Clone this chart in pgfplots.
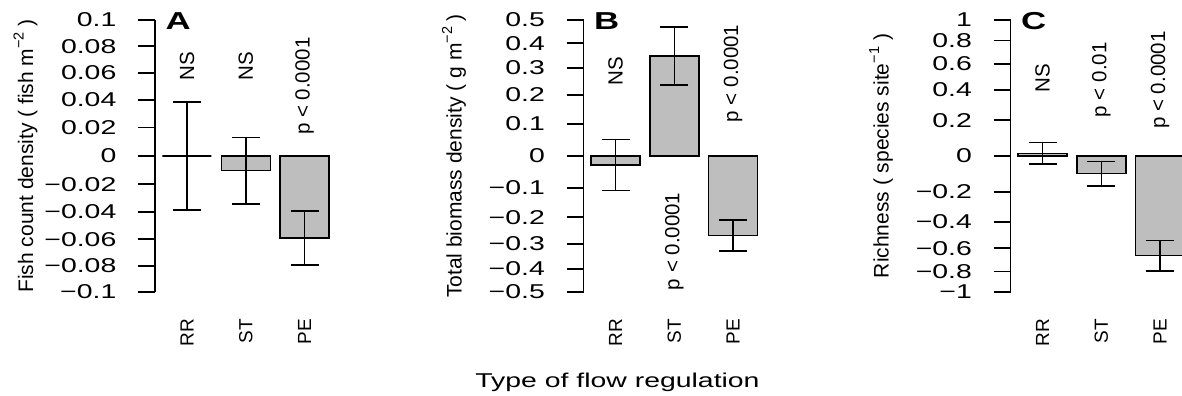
\documentclass[border=0pt]{standalone}
\usepackage{pgfplots}
\pgfplotsset{compat=1.18}
\usepackage{fontspec}
\setmainfont{Liberation Sans}
\newfontfamily\widefont{Liberation Sans}[FakeStretch=1.42]

\definecolor{barfill}{HTML}{BEBEBE}

% rotated text (labels, p values) and horizontal text (ticks, title)
\newcommand\rotfont{\fontsize{20.5bp}{24bp}\selectfont}
\newcommand\catfont{\fontsize{19bp}{23bp}\selectfont}
\newcommand\labfont{\fontsize{21bp}{25bp}\selectfont}
\newcommand\tickfont{\fontsize{20bp}{24bp}\selectfont}
\newcommand\horfont{\widefont\fontsize{20bp}{24bp}\selectfont}
\newcommand\panelfont{\widefont\bfseries\fontsize{24.5bp}{28bp}\selectfont}
\newcommand\supm[1]{\raisebox{0.45em}{\fontsize{14.5bp}{15bp}\selectfont #1}}
% wide tick numbers
\newcommand\tl[1]{\scalebox{1.42}[1]{\tickfont #1}}

% y axes use a signed log(1+|x|) scale; ticks sit at the transformed values
\pgfplotsset{
  panel/.style={
    scale only axis,
    width=181bp, height=272bp,
    anchor=south west,
    xmin=0.047, xmax=3.741,
    clip=false,
    axis x line=none,
    axis y line=left,
    y axis line style={-, line width=1.5bp, black},
    tick align=outside,
    major tick length=17bp,
    scaled y ticks=false,
    ytick style={line width=1.5bp, black},
    yticklabel style={font=\tickfont, anchor=east, inner sep=0pt, xshift=-21.5bp},
    every axis y label/.style={at={(axis description cs:-0.674,0.5)}, rotate=90, anchor=base, font=\labfont},
  },
  bars/.style={
    ybar, bar width=49bp, fill=barfill, draw=black, line width=1.5bp,
    error bars/.cd, y dir=both, y explicit,
    error bar style={line width=1.5bp, black},
    error mark=|,
    error mark options={black, line width=1.5bp, mark size=14bp},
  },
}
\tikzset{
  pval/.style={rotate=90, inner sep=0pt, font=\rotfont},
  cat/.style={rotate=90, anchor=east, inner sep=0pt, font=\catfont},
  letter/.style={anchor=base west, inner sep=0pt, font=\panelfont},
}

\begin{document}
\begin{tikzpicture}[x=1bp, y=1bp]
\path[use as bounding box] (0,0) rectangle (1182,395);

% A: fish count density
\begin{axis}[panel, at={(155bp,103bp)},
  ymin=-0.09531, ymax=0.09531,
  ytick={-0.09531,-0.07696,-0.05827,-0.03922,-0.01980,0,0.01980,0.03922,0.05827,0.07696,0.09531},
  yticklabels={\tl{−0.1},\tl{−0.08},\tl{−0.06},\tl{−0.04},\tl{−0.02},\tl{0},\tl{0.02},\tl{0.04},\tl{0.06},\tl{0.08},\tl{0.1}},
  ylabel={Fish count density ( fish m\supm{−2} )}]
\addplot[bars] coordinates {
  (0.7, 0.0000) +- (0, 0.0378)
  (1.9,-0.0103) +- (0, 0.0232)
  (3.1,-0.0574) +- (0, 0.0190)
};
\node[pval, anchor=west] at (axis cs:0.7,0.0531) {NS};
\node[pval, anchor=west] at (axis cs:1.9,0.0531) {NS};
\node[pval, anchor=west] at (axis cs:3.1,0.0146) {p < 0.0001};
\node[cat] at (rel axis cs:0.1768,-0.0993) {RR};
\node[cat] at (rel axis cs:0.5016,-0.0993) {ST};
\node[cat] at (rel axis cs:0.8265,-0.0993) {PE};
\node[letter] at (axis description cs:0.058,0.965) {A};
\end{axis}

% B: total biomass density
\begin{axis}[panel, at={(583.5bp,103bp)},
  ymin=-0.40547, ymax=0.40547,
  ytick={-0.40547,-0.33647,-0.26236,-0.18232,-0.09531,0,0.09531,0.18232,0.26236,0.33647,0.40547},
  yticklabels={\tl{−0.5},\tl{−0.4},\tl{−0.3},\tl{−0.2},\tl{−0.1},\tl{0},\tl{0.1},\tl{0.2},\tl{0.3},\tl{0.4},\tl{0.5}},
  ylabel={Total biomass density ( g m\supm{−2} )}]
\addplot[bars] coordinates {
  (0.7,-0.027) +- (0, 0.076)
  (1.9, 0.298) +- (0, 0.087)
  (3.1,-0.237) +- (0, 0.046)
};
\node[pval, anchor=west] at (axis cs:0.7,0.210) {NS};
\node[pval, anchor=east] at (axis cs:1.9,-0.1085) {p < 0.0001};
\node[pval, anchor=west] at (axis cs:3.1,0.1005) {p < 0.0001};
\node[cat] at (rel axis cs:0.1768,-0.0993) {RR};
\node[cat] at (rel axis cs:0.5016,-0.0993) {ST};
\node[cat] at (rel axis cs:0.8265,-0.0993) {PE};
\node[letter] at (axis description cs:0.058,0.965) {B};
\end{axis}

% C: species richness
\begin{axis}[panel, at={(1010.5bp,103bp)},
  ymin=-0.69315, ymax=0.69315,
  ytick={-0.69315,-0.58779,-0.47000,-0.33647,-0.18232,0,0.18232,0.33647,0.47000,0.58779,0.69315},
  yticklabels={\tl{−1},\tl{−0.8},\tl{−0.6},\tl{−0.4},\tl{−0.2},\tl{0},\tl{0.2},\tl{0.4},\tl{0.6},\tl{0.8},\tl{1}},
  ylabel={Richness ( species site\supm{−1} )}]
\addplot[bars] coordinates {
  (0.7, 0.014) +- (0, 0.056)
  (1.9,-0.090) +- (0, 0.062)
  (3.1,-0.508) +- (0, 0.078)
};
\node[pval, anchor=west] at (axis cs:0.7,0.3248) {NS};
\node[pval, anchor=west] at (axis cs:1.9,0.197) {p < 0.01};
\node[pval, anchor=west] at (axis cs:3.1,0.1378) {p < 0.0001};
\node[cat] at (rel axis cs:0.1768,-0.0993) {RR};
\node[cat] at (rel axis cs:0.5016,-0.0993) {ST};
\node[cat] at (rel axis cs:0.8265,-0.0993) {PE};
\node[letter] at (axis description cs:0.058,0.965) {C};
\end{axis}

\node[anchor=base, inner sep=0pt, font=\horfont] at (617.5,7.5) {Type of flow regulation};
\end{tikzpicture}
\end{document}
